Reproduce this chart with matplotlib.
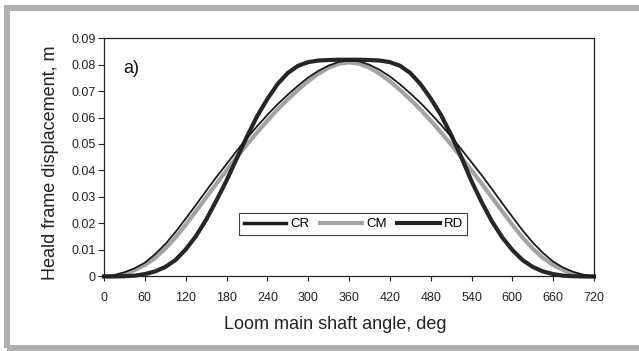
"""Heald frame displacement vs loom main shaft angle (CR / CM / RD)."""
import numpy as np
import matplotlib
matplotlib.use('Agg')
import matplotlib.pyplot as plt
from matplotlib.patches import Rectangle

# angoli di lettura, ogni 15 gradi
angle = np.arange(0, 721, 15)

cr = [0.0000, 0.0005, 0.0016, 0.0031, 0.0052, 0.0084, 0.0122, 0.0168, 0.0218,
      0.0270, 0.0323, 0.0375, 0.0424, 0.0474, 0.0522, 0.0567, 0.0610, 0.0650,
      0.0686, 0.0720, 0.0751, 0.0776, 0.0796, 0.0810, 0.0815,
      0.0812, 0.0799, 0.0780, 0.0755, 0.0725, 0.0691, 0.0655, 0.0615, 0.0573,
      0.0528, 0.0480, 0.0431, 0.0382, 0.0330, 0.0277, 0.0225, 0.0174, 0.0128,
      0.0089, 0.0056, 0.0033, 0.0017, 0.0006, 0.0000]

cm = [0.0000, 0.0002, 0.0010, 0.0024, 0.0043, 0.0070, 0.0105, 0.0147, 0.0195,
      0.0246, 0.0298, 0.0350, 0.0400, 0.0450, 0.0498, 0.0544, 0.0588, 0.0630,
      0.0668, 0.0704, 0.0737, 0.0765, 0.0788, 0.0803, 0.0808,
      0.0803, 0.0788, 0.0765, 0.0737, 0.0704, 0.0668, 0.0630, 0.0588, 0.0544,
      0.0498, 0.0450, 0.0400, 0.0350, 0.0298, 0.0246, 0.0195, 0.0147, 0.0105,
      0.0070, 0.0043, 0.0024, 0.0010, 0.0002, 0.0000]

rd = [0.0000, 0.0000, 0.0001, 0.0003, 0.0009, 0.0019, 0.0036, 0.0062, 0.0102,
      0.0152, 0.0214, 0.0286, 0.0362, 0.0445, 0.0528, 0.0605, 0.0670, 0.0726,
      0.0768, 0.0795, 0.0809, 0.0815, 0.0817, 0.0818, 0.0818,
      0.0818, 0.0817, 0.0815, 0.0809, 0.0795, 0.0768, 0.0726, 0.0672, 0.0610,
      0.0535, 0.0450, 0.0360, 0.0280, 0.0208, 0.0148, 0.0100, 0.0062, 0.0036,
      0.0019, 0.0009, 0.0003, 0.0001, 0.0000, 0.0000]

xticks = list(range(0, 721, 60))
yticks = [0, 0.01, 0.02, 0.03, 0.04, 0.05, 0.06, 0.07, 0.08, 0.09]
ytick_labels = ['0', '0.01', '0.02', '0.03', '0.04', '0.05', '0.06', '0.07',
                '0.08', '0.09']

plt.rcParams['font.family'] = ['Liberation Sans', 'DejaVu Sans']

fig = plt.figure(figsize=(6.39, 3.51), dpi=100)
ax = fig.add_axes([0.1628, 0.2123, 0.7668, 0.6794])

ax.plot(angle, cr, color='#1a1a1a', lw=1.3, label='CR', zorder=4, clip_on=False)
ax.plot(angle, cm, color='#a3a3a3', lw=3.0, label='CM', zorder=2, clip_on=False)
ax.plot(angle, rd, color='#262626', lw=3.0, label='RD', zorder=3, clip_on=False)

ax.set_xlim(0, 720)
ax.set_ylim(0, 0.09)
ax.set_xticks(xticks)
ax.set_yticks(yticks)
ax.set_yticklabels(ytick_labels)
ax.tick_params(axis='x', direction='out', length=3.5, width=0.8, pad=8,
               labelsize=9, colors='#222222')
ax.tick_params(axis='y', direction='out', length=4, width=0.8, pad=2,
               labelsize=9, colors='#222222')
for s in ax.spines.values():
    s.set_linewidth(0.9)
    s.set_color('#222222')

ax.set_xlabel('Loom main shaft angle, deg', fontsize=13, va='center',
              color='#222222')
ax.xaxis.set_label_coords(0.471, -0.203)
ax.set_ylabel('Heald frame displacement, m', fontsize=13, va='center',
              color='#222222')
ax.yaxis.set_label_coords(-0.110, 0.478)

ax.text(28, 0.0785, 'a)', fontsize=13, va='center', color='#111111')

leg = ax.legend(loc='center', bbox_to_anchor=(0.509, 0.22), ncol=3,
                fontsize=9.5, frameon=True, fancybox=False, handlelength=3.2,
                handletextpad=0.3, columnspacing=0.8, borderpad=0.35)
leg.get_frame().set_edgecolor('#111111')
leg.get_frame().set_linewidth(0.8)
leg.get_lines()[0].set_linewidth(2.5)

# cornice grigia attorno alla figura (il lato destro esce dall'immagine)
fig.patches.append(Rectangle((7 / 639, 3 / 351), 1.05, 340 / 351,
                             transform=fig.transFigure, fill=False,
                             edgecolor='#b0b0b0', linewidth=4.3,
                             clip_on=False))

fig.savefig('out.png', dpi=100)
